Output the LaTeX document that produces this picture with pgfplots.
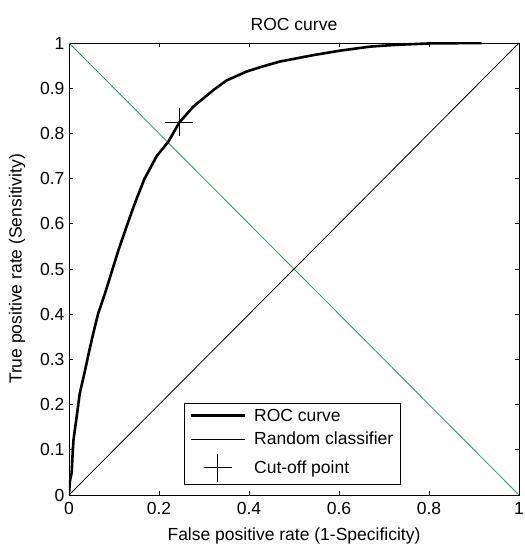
\documentclass[border=0pt]{standalone}
\usepackage{fontspec}
\setmainfont{Liberation Sans}
\usepackage{pgfplots}
\pgfplotsset{compat=1.18}
\definecolor{diaggreen}{RGB}{38,150,90}
\newcommand\chartfont{\fontsize{17.5bp}{20bp}\selectfont}

\begin{document}
\begin{tikzpicture}
\begin{axis}[
    width=450bp, height=452bp, scale only axis,
    xmin=0, xmax=1, ymin=0, ymax=1,
    xtick={0,0.2,0.4,0.6,0.8,1},
    ytick={0,0.1,0.2,0.3,0.4,0.5,0.6,0.7,0.8,0.9,1},
    tick align=inside, major tick length=4.5bp,
    axis line style={line width=0.8bp},
    tick style={black, line width=0.8bp},
    /pgf/number format/assume math mode=true,
    ticklabel style={font=\chartfont},
    xticklabel style={yshift=-4bp},
    yticklabel style={xshift=-1bp},
    title={ROC curve},
    title style={font=\chartfont, yshift=3bp},
    xlabel={False positive rate (1-Specificity)},
    ylabel={True positive rate (Sensitivity)},
    label style={font=\chartfont},
    xlabel style={yshift=-6bp},
    ylabel style={yshift=8bp},
    legend style={at={(rel axis cs:0.256,0.022)}, anchor=south west,
        draw=black, line width=0.8bp, font=\chartfont,
        inner xsep=5bp, inner ysep=3bp, row sep=5.5bp},
    legend cell align=left,
    legend image code/.code={
        \draw[mark repeat=2,mark phase=2,#1]
        plot coordinates {(0bp,0bp) (27bp,0bp) (54bp,0bp)};
        \path (60bp,0bp);},
]
\coordinate (sw) at (rel axis cs:0,0);
\coordinate (ne) at (rel axis cs:1,1);

\addplot[diaggreen, line width=0.8bp, forget plot] coordinates {(0,1) (1,0)};

\addplot[black, line width=2.6bp] coordinates {
(0,0)
(0.002,0.03)
(0.006,0.05)
(0.008,0.09)
(0.010,0.122)
(0.017,0.173)
(0.024,0.225)
(0.036,0.277)
(0.043,0.310)
(0.054,0.358)
(0.065,0.402)
(0.080,0.446)
(0.095,0.494)
(0.110,0.542)
(0.128,0.594)
(0.140,0.628)
(0.152,0.660)
(0.168,0.700)
(0.195,0.750)
(0.221,0.782)
(0.245,0.824)
(0.276,0.859)
(0.321,0.896)
(0.350,0.917)
(0.395,0.937)
(0.430,0.948)
(0.469,0.959)
(0.542,0.973)
(0.602,0.983)
(0.669,0.992)
(0.728,0.996)
(0.800,0.999)
(0.917,1.000)
};
\addlegendentry{ROC curve}

\addplot[black, line width=0.8bp] coordinates {(0,0) (1,1)};
\addlegendentry{Random classifier}

\addplot[black, only marks, mark=+, mark size=14bp, line width=0.8bp] coordinates {(0.245,0.825)};
\addlegendentry{Cut-off point}
\end{axis}
\pgfresetboundingbox
\path ([shift={(-69bp,-50bp)}]sw) rectangle ([shift={(6bp,43bp)}]ne);
\end{tikzpicture}
\end{document}
